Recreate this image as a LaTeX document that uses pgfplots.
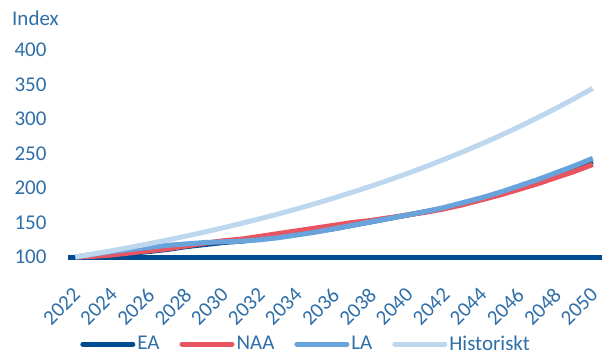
\documentclass[border=0pt]{standalone}
\usepackage{fontspec}
\setmainfont{Carlito}
\usepackage{pgfplots}
\pgfplotsset{compat=1.18}
\definecolor{cEA}{RGB}{0,76,145}
\definecolor{cNAA}{RGB}{232,84,96}
\definecolor{cLA}{RGB}{104,163,219}
\definecolor{cHist}{RGB}{189,215,238}
\definecolor{txt}{RGB}{47,110,168}
\begin{document}
\begin{tikzpicture}
\path[use as bounding box] (0,0) rectangle (602pt,354pt);
\node[anchor=west, text=txt, font=\fontsize{21}{24}\selectfont, inner sep=0pt] at (12pt,336pt) {Index};
\begin{axis}[
  at={(68pt,97pt)}, anchor=south west,
  scale only axis, width=534pt, height=207pt,
  xmin=2021.6, xmax=2050.5, ymin=100, ymax=400,
  clip=false,
  axis y line*=left,
  y axis line style={draw=none},
  axis x line*=bottom,
  x axis line style={draw=cEA, line width=5pt, -},
  xtick={2022,2024,...,2050},
  ytick={100,150,...,400},
  major tick length=0pt,
  tick style={draw=none},
  /pgf/number format/assume math mode=true,
  /pgf/number format/1000 sep={},
  tick label style={text=txt, font=\fontsize{21}{24}\selectfont},
  xticklabel style={rotate=45, anchor=north east, xshift=-20pt, yshift=-15pt},
  yticklabel style={anchor=east, xshift=-18pt},
  legend style={draw=none, fill=none, legend columns=-1,
    at={(0.446,0)}, anchor=center, yshift=-87pt,
    font=\fontsize{21}{24}\selectfont, text=txt,
    /tikz/every even column/.append style={column sep=18pt}},
  legend image code/.code={\draw[#1, line cap=round] (0pt,0pt) -- (50pt,0pt);},
  every axis plot/.append style={line width=5pt, line join=round},
]
\addplot[cEA] coordinates {
(2022,100) (2023,100.5) (2024,102) (2025,105) (2026,108) (2027,111) (2028,115) (2029,118)
(2030,121) (2031,123) (2032,126) (2033,129) (2034,133) (2035,137) (2036,141) (2037,146)
(2038,151) (2039,156) (2040,161) (2041,166) (2042,171) (2043,178) (2044,185) (2045,192)
(2046,201) (2047,210) (2048,219) (2049,228) (2050,238)};
\addlegendentry{EA}
\addplot[cNAA] coordinates {
(2022,100) (2023,101) (2024,103) (2025,106) (2026,109) (2027,112) (2028,116) (2029,120)
(2030,123.5) (2031,126) (2032,130) (2033,134) (2034,138) (2035,142) (2036,146) (2037,150)
(2038,153) (2039,157) (2040,161) (2041,165) (2042,170) (2043,176) (2044,183) (2045,190)
(2046,198) (2047,206) (2048,215) (2049,224) (2050,234)};
\addlegendentry{NAA}
\addplot[cLA] coordinates {
(2022,100) (2023,104) (2024,108) (2025,111) (2026,114) (2027,117) (2028,119) (2029,121)
(2030,122) (2031,123) (2032,125) (2033,128) (2034,132) (2035,136) (2036,141) (2037,146)
(2038,151) (2039,156) (2040,161) (2041,166) (2042,172) (2043,179) (2044,186) (2045,194)
(2046,203) (2047,212) (2048,222) (2049,232) (2050,243)};
\addlegendentry{LA}
\addplot[cHist] coordinates {
(2022,100) (2023,104.5) (2024,109.2) (2025,114.2) (2026,119.3) (2027,124.7) (2028,130.3)
(2029,136.2) (2030,142.4) (2031,148.8) (2032,155.5) (2033,162.5) (2034,169.9) (2035,177.5)
(2036,185.6) (2037,193.9) (2038,202.7) (2039,211.8) (2040,221.4) (2041,231.4) (2042,241.9)
(2043,252.8) (2044,264.2) (2045,276.1) (2046,288.6) (2047,301.7) (2048,315.3) (2049,329.6)
(2050,344.5)};
\addlegendentry{Historiskt}
\end{axis}
\end{tikzpicture}
\end{document}
